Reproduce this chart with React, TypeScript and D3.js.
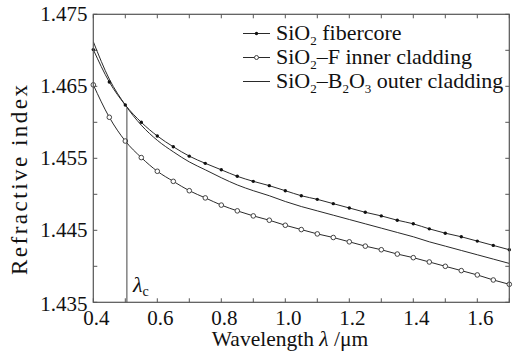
import React from "react";
import * as d3 from "d3";

// Wavelength samples (µm)
const wavelengths = [
  0.4, 0.45, 0.5, 0.55, 0.6, 0.65, 0.7, 0.75, 0.8, 0.85, 0.9, 0.95, 1.0, 1.05,
  1.1, 1.15, 1.2, 1.25, 1.3, 1.35, 1.4, 1.45, 1.5, 1.55, 1.6, 1.65, 1.7,
];

// SiO2 fiber core
const coreIndex = [
  1.4701, 1.4656, 1.4624, 1.46, 1.4581, 1.4566, 1.4553, 1.4543, 1.4534, 1.4525,
  1.4518, 1.4512, 1.4505, 1.4498, 1.4493, 1.4487, 1.4481, 1.4475, 1.447, 1.4464,
  1.4459, 1.4452, 1.4446, 1.4441, 1.4435, 1.4429, 1.4423,
];

// SiO2–F inner cladding
const innerIndex = [
  1.4652, 1.4607, 1.4574, 1.4551, 1.4532, 1.4518, 1.4505, 1.4495, 1.4485, 1.4477,
  1.447, 1.4464, 1.4457, 1.4451, 1.4445, 1.444, 1.4434, 1.4428, 1.4423, 1.4417,
  1.4412, 1.4406, 1.44, 1.4394, 1.4388, 1.4381, 1.4375,
];

// SiO2–B2O3 outer cladding
const outerIndex = [
  1.4712, 1.466, 1.4624, 1.4596, 1.4575, 1.4559, 1.4545, 1.4534, 1.4523, 1.4513,
  1.4505, 1.4498, 1.449, 1.4483, 1.4477, 1.4471, 1.4465, 1.4459, 1.4453, 1.4447,
  1.4441, 1.4434, 1.4428, 1.4422, 1.4416, 1.441, 1.4404,
];

// Cut-off wavelength marker
const lambdaC = 0.505;
const lambdaCIndex = 1.462;

const xTicks = [0.4, 0.5, 0.6, 0.7, 0.8, 0.9, 1.0, 1.1, 1.2, 1.3, 1.4, 1.5, 1.6, 1.7];
const xTickLabels = ["0.4", "0.6", "0.8", "1.0", "1.2", "1.4", "1.6"];
const yTicks = [1.435, 1.44, 1.445, 1.45, 1.455, 1.46, 1.465, 1.47, 1.475];
const yTickLabels = ["1.435", "1.445", "1.455", "1.465", "1.475"];

const W = 523;
const H = 357;
const M = { left: 93.3, right: 509.3, top: 14.3, bottom: 302.3 };
const SERIF = "Liberation Serif";
const INK = "#2a2a2a";
const AXIS = "#555";

export default function App() {
  const x = d3.scaleLinear().domain([0.4, 1.7]).range([M.left, M.right]);
  const y = d3.scaleLinear().domain([1.435, 1.475]).range([M.bottom, M.top]);

  const line = (vals: number[]) =>
    d3
      .line<number>()
      .x((_, i) => x(wavelengths[i]))
      .y((v) => y(v))
      .curve(d3.curveMonotoneX)(vals) || "";

  const tickLen = 4;
  const legendX = 276;
  const legendRows = [39.5, 63.5, 87.5];

  return (
    <svg width={W} height={H} style={{ position: "absolute", left: 0, top: 0 }}>
      <style>{`text, tspan { font-family: "Liberation Serif", serif; }`}</style>
      <rect x={0} y={0} width={W} height={H} fill="#fff" />
      <defs>
        <clipPath id="plotArea">
          <rect x={M.left} y={M.top} width={M.right - M.left} height={M.bottom - M.top} />
        </clipPath>
      </defs>

      {/* ticks on all four sides, pointing inward */}
      <g stroke={AXIS} strokeWidth={1}>
        {xTicks.map((t) => (
          <g key={`xt${t}`}>
            <line x1={x(t)} x2={x(t)} y1={M.bottom} y2={M.bottom - tickLen} />
            <line x1={x(t)} x2={x(t)} y1={M.top} y2={M.top + tickLen} />
          </g>
        ))}
        {yTicks.map((t) => (
          <g key={`yt${t}`}>
            <line x1={M.left} x2={M.left + tickLen} y1={y(t)} y2={y(t)} />
            <line x1={M.right} x2={M.right - tickLen} y1={y(t)} y2={y(t)} />
          </g>
        ))}
      </g>

      {/* curves */}
      <g clipPath="url(#plotArea)" fill="none" stroke={INK} strokeWidth={1}>
        <path d={line(outerIndex)} />
        <path d={line(coreIndex)} />
        <path d={line(innerIndex)} />
      </g>

      {/* markers */}
      <g>
        {innerIndex.map((v, i) => (
          <circle
            key={`in${i}`}
            cx={x(wavelengths[i])}
            cy={y(v)}
            r={2.3}
            fill="#fff"
            stroke="#444"
            strokeWidth={1}
          />
        ))}
        {coreIndex.map((v, i) => (
          <circle key={`co${i}`} cx={x(wavelengths[i])} cy={y(v)} r={1.7} fill="#111" />
        ))}
      </g>

      {/* cut-off wavelength */}
      <line
        x1={x(lambdaC)}
        x2={x(lambdaC)}
        y1={M.bottom}
        y2={y(lambdaCIndex)}
        stroke="#444"
        strokeWidth={1}
      />
      <text x={x(lambdaC) + 6} y={292} fontSize={22} fontStyle="italic" fill="#111" fontFamily={SERIF}>
        λ
        <tspan fontSize={14} fontStyle="normal" dy={4}>
          c
        </tspan>
      </text>

      {/* frame */}
      <rect
        x={M.left}
        y={M.top}
        width={M.right - M.left}
        height={M.bottom - M.top}
        fill="none"
        stroke={AXIS}
        strokeWidth={1.2}
      />

      {/* tick labels */}
      <g fontSize={21} fill="#111" fontFamily={SERIF}>
        {xTickLabels.map((s) => (
          <text key={`xl${s}`} x={x(+s) + 3} y={324.5} textAnchor="middle">
            {s}
          </text>
        ))}
        {yTickLabels.map((s) => (
          <text
            key={`yl${s}`}
            x={87.5}
            y={y(+s) + 7 + (s === "1.435" ? 2 : 0)}
            textAnchor="end"
          >
            {s}
          </text>
        ))}
      </g>

      {/* axis titles */}
      <text x={290} y={345.5} fontSize={21.5} textAnchor="middle" fill="#111" fontFamily={SERIF}>
        Wavelength <tspan fontStyle="italic">λ</tspan> /μm
      </text>
      <text
        transform="translate(27,180) rotate(-90)"
        fontSize={23}
        textAnchor="middle"
        fill="#111"
        fontFamily={SERIF}
        textLength={190}
        lengthAdjust="spacing"
      >
        Refractive index
      </text>

      {/* legend */}
      <g fontSize={22} fill="#111" fontFamily={SERIF}>
        <line x1={243} x2={270} y1={legendRows[0] - 6} y2={legendRows[0] - 6} stroke={INK} />
        <circle cx={256.5} cy={legendRows[0] - 6} r={1.7} fill="#111" />
        <text x={legendX} y={legendRows[0]}>
          SiO
          <tspan fontSize={13} dy={5}>2</tspan>
          <tspan dy={-5}> fibercore</tspan>
        </text>

        <line x1={243} x2={270} y1={legendRows[1] - 6} y2={legendRows[1] - 6} stroke={INK} />
        <circle cx={256.5} cy={legendRows[1] - 6} r={2} fill="#fff" stroke="#444" />
        <text x={legendX} y={legendRows[1]}>
          SiO
          <tspan fontSize={13} dy={5}>2</tspan>
          <tspan dy={-5}>–F inner cladding</tspan>
        </text>

        <line x1={243} x2={270} y1={legendRows[2] - 6} y2={legendRows[2] - 6} stroke={INK} />
        <text x={legendX} y={legendRows[2]}>
          SiO
          <tspan fontSize={13} dy={5}>2</tspan>
          <tspan dy={-5}>–B</tspan>
          <tspan fontSize={13} dy={5}>2</tspan>
          <tspan dy={-5}>O</tspan>
          <tspan fontSize={13} dy={5}>3</tspan>
          <tspan dy={-5}> outer cladding</tspan>
        </text>
      </g>
    </svg>
  );
}
